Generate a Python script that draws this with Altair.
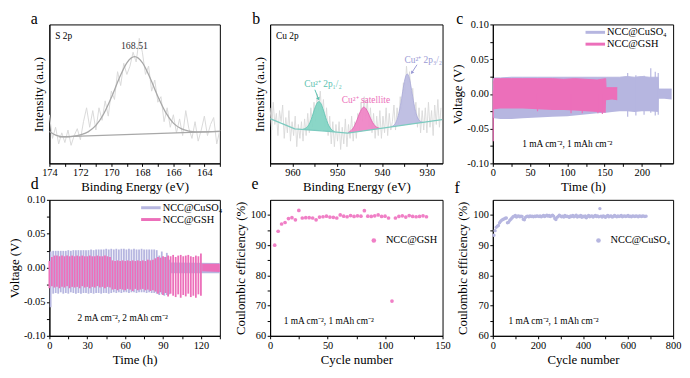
import altair as alt
import pandas as pd

FONT = "Liberation Serif"
LAV = "#b6b6e0"
LAV_TXT = "#9a9ad4"
PINK = "#ec6fba"
PINK_PT = "#f07fc6"
TEAL = "#84d4c4"
TEAL_DARK = "#5cc2b0"
GREY_RAW = "#d9d9d9"
GREY_FIT = "#a8a8a8"
CU = "NCC@CuSO\u2084"
GSH = "NCC@GSH"

# ---------------- panel a: S 2p ----------------
A_RAW_START, A_RAW_STEP = 174.0, -0.2
A_RAW = [35, 18, 26, 14, 22, 15, 24, 13, 20, 25,
         17, 30, 40, 26, 38, 24, 40, 31, 45, 34,
         52, 46, 66, 56, 72, 64, 70, 80, 73, 90,
         80, 64, 70, 52, 60, 44, 48, 30, 40, 26,
         35, 22, 32, 20, 38, 25, 18, 30, 16, 24,
         34, 20, 28, 33, 14, 24]
A_FIT_E = [174, 173.5, 173, 172.5, 172, 171.5, 171, 170.5, 170, 169.5, 169, 168.5,
           168, 167.5, 167, 166.5, 166, 165.5, 165, 164.5, 164, 163.5, 163]
A_FIT = [23, 20, 19.1, 19.5, 20.5, 22.7, 27.3, 35.5, 47.4, 61.1, 72.4, 76.8,
         72.5, 61.4, 48.1, 36.7, 29.0, 25.0, 23.2, 22.6, 22.7, 22.8, 23.0]
A_BASE_E = [173.4, 163.0]
A_BASE = [19.0, 23.0]
A_PEAK = 168.51

# ---------------- panel b: Cu 2p ----------------
B_RAW_START, B_RAW_STEP = 965.0, -0.35
B_RAW = [40, 24, 44, 28, 36, 20, 38, 30, 42, 18,
         33, 22, 38, 16, 30, 20, 34, 12, 28, 18,
         30, 16, 32, 20, 36, 22, 40, 26, 44, 30,
         50, 38, 52, 34, 46, 26, 40, 20, 34, 14,
         30, 12, 28, 16, 30, 10, 26, 14, 32, 12,
         28, 18, 34, 16, 30, 18, 36, 24, 44, 30,
         48, 32, 46, 26, 40, 22, 36, 18, 34, 20,
         38, 18, 34, 22, 40, 20, 36, 24, 30, 42,
         24, 40, 28, 48, 38, 58, 50, 70, 56, 66,
         46, 54, 34, 44, 26, 40, 22, 38, 24, 40,
         22, 44, 26, 38, 20, 42, 28, 46, 26, 40]
B_BASE_E = [965, 959.5, 952, 947.7, 926.6]
B_BASE = [32.2, 24.8, 23.0, 21.8, 31.5]
B_TEAL_E = [957.6, 957.1, 956.6, 956.1, 955.6, 955.1, 954.6, 954.1, 953.6, 953.1, 952.6, 952.1, 951.6, 951.1, 950.6]
B_TEAL_LO = [24.3, 24.2, 24.0, 23.9, 23.8, 23.7, 23.6, 23.5, 23.4, 23.3, 23.2, 23.0, 22.9, 22.7, 22.6]
B_TEAL_HI = [24.7, 25.3, 26.7, 29.5, 33.8, 38.8, 42.9, 44.5, 42.7, 38.4, 33.2, 28.6, 25.6, 23.8, 23.0]
B_PINK_E = [947.6, 947.1, 946.6, 946.1, 945.6, 945.1, 944.6, 944.1, 943.6, 943.1, 942.6, 942.1, 941.6, 941.1, 940.6]
B_PINK_LO = [21.8, 22.1, 22.3, 22.5, 22.8, 23.0, 23.2, 23.5, 23.7, 23.9, 24.1, 24.4, 24.6, 24.8, 25.1]
B_PINK_HI = [22.2, 23.2, 24.8, 27.5, 31.3, 35.5, 38.9, 40.5, 39.4, 36.4, 32.6, 29.4, 27.1, 25.9, 25.5]
B_LAV_E = [937.9, 937.4, 936.9, 936.4, 935.9, 935.4, 934.9, 934.4, 933.9, 933.4, 932.9, 932.4, 931.9, 931.4, 930.9]
B_LAV_LO = [26.3, 26.5, 26.8, 27.0, 27.2, 27.5, 27.7, 27.9, 28.2, 28.4, 28.6, 28.8, 29.1, 29.3, 29.5]
B_LAV_HI = [26.5, 27.4, 29.6, 34.3, 41.7, 51.7, 60.7, 64.4, 61.2, 52.6, 43.1, 35.9, 31.9, 30.2, 29.7]
B_LABELS = ["Cu\u00b2\u207a 2p\u2081/\u2082", "Cu\u00b2\u207a satellite", "Cu\u00b2\u207a 2p\u2083/\u2082"]
B_LABEL_E = [953.2, 943.6, 930.8]
B_LABEL_I = [55.0, 43.5, 72.5]
B_LABEL_COL = [TEAL_DARK, PINK, LAV_TXT]

# ---------------- panel c: 1 mA cm-2 ----------------
C_LAV_T = [0, 2, 10, 25, 40, 60, 80, 100, 120, 140, 152, 160, 170, 180, 190, 200, 210, 222, 222.5, 230, 240]
C_LAV_HI = [0.021, 0.023, 0.023, 0.024, 0.024, 0.024, 0.024, 0.024, 0.024, 0.024, 0.024,
            0.024, 0.024, 0.025, 0.024, 0.025, 0.024, 0.024, 0.007, 0.007, 0.007]
C_LAV_LO = [-0.034, -0.035, -0.036, -0.036, -0.035, -0.034, -0.033, -0.032, -0.030, -0.028, -0.027,
            -0.026, -0.025, -0.025, -0.026, -0.025, -0.025, -0.026, -0.007, -0.007, -0.008]
C_LAV_SPK_T = [181, 192, 203, 212, 218, 222]
C_LAV_SPK_HI = [0.030, 0.027, 0.026, 0.037, 0.032, 0.030]
C_LAV_SPK_LO = [-0.033, -0.031, -0.030, -0.027, -0.031, -0.030]
C_PINK_T = [0.5, 2, 10, 25, 40, 60, 80, 95, 110, 125, 140, 151.5, 152, 160, 167]
C_PINK_HI = [0.015, 0.022, 0.022, 0.022, 0.022, 0.022, 0.022, 0.021, 0.022, 0.021, 0.020, 0.022, 0.009, 0.009, 0.009]
C_PINK_LO = [-0.022, -0.022, -0.021, -0.021, -0.021, -0.022, -0.023, -0.023, -0.024, -0.025, -0.026, -0.027,
             -0.009, -0.008, -0.009]
C_PINK_SPK_T = [0.6, 60, 105, 120, 141, 147]
C_PINK_SPK_HI = [0.005, 0.0, 0.0, 0.0, 0.0, 0.0]
C_PINK_SPK_LO = [-0.068, -0.025, -0.028, -0.028, -0.028, -0.029]

# ---------------- panel d: 2 mA cm-2 ----------------
D_LAV_T = [1 + 2 * k for k in range(48)]
D_LAV_HI = [0.024, 0.025, 0.025, 0.025, 0.025, 0.025, 0.025, 0.026, 0.025, 0.026,
            0.026, 0.026, 0.026, 0.026, 0.026, 0.026, 0.027, 0.026, 0.027, 0.027,
            0.027, 0.027, 0.028, 0.027, 0.028, 0.027, 0.028, 0.027, 0.028, 0.028,
            0.027, 0.028, 0.027, 0.028, 0.027, 0.027, 0.028, 0.027, 0.027, 0.027,
            0.027, 0.027, 0.026, 0.018, 0.024, 0.016, 0.022, 0.012]
D_LAV_LO = [-0.058, -0.038, -0.037, -0.038, -0.036, -0.038, -0.037, -0.038, -0.036, -0.037,
            -0.038, -0.037, -0.038, -0.037, -0.037, -0.038, -0.037, -0.038, -0.037, -0.037,
            -0.038, -0.037, -0.037, -0.038, -0.037, -0.036, -0.037, -0.036, -0.037, -0.036,
            -0.036, -0.037, -0.036, -0.036, -0.037, -0.036, -0.036, -0.036, -0.037, -0.036,
            -0.037, -0.037, -0.038, -0.040, -0.039, -0.041, -0.040, -0.039]
D_PINK_T = [2 * k for k in range(61)]
D_PINK_HI = [0.010, 0.016, 0.018, 0.018, 0.017, 0.018, 0.017, 0.018, 0.017, 0.018,
             0.017, 0.018, 0.017, 0.018, 0.017, 0.017, 0.018, 0.017, 0.017, 0.018,
             0.017, 0.017, 0.018, 0.017, 0.016, 0.011, 0.010, 0.011, 0.010, 0.011,
             0.010, 0.011, 0.010, 0.011, 0.010, 0.011, 0.010, 0.011, 0.010, 0.012,
             0.011, 0.012, 0.014, 0.016, 0.015, 0.017, 0.016, 0.018, 0.017, 0.019,
             0.016, 0.018, 0.019, 0.017, 0.018, 0.019, 0.017, 0.016, 0.018, 0.017,
             0.021]
D_PINK_LO = [-0.030, -0.027, -0.029, -0.028, -0.030, -0.028, -0.029, -0.027, -0.030, -0.028,
             -0.029, -0.028, -0.030, -0.027, -0.029, -0.028, -0.030, -0.028, -0.029, -0.027,
             -0.029, -0.028, -0.030, -0.028, -0.029, -0.032, -0.031, -0.033, -0.031, -0.032,
             -0.033, -0.031, -0.032, -0.034, -0.031, -0.033, -0.032, -0.031, -0.033, -0.032,
             -0.034, -0.033, -0.035, -0.038, -0.036, -0.040, -0.037, -0.042, -0.038, -0.041,
             -0.043, -0.039, -0.044, -0.040, -0.042, -0.038, -0.043, -0.041, -0.044, -0.039,
             -0.041]
D_LAV_NB_T = [95, 135]
D_LAV_NB_HI = [0.008, 0.007]
D_LAV_NB_LO = [-0.008, -0.008]
D_PINK_NB_T = [121, 135]
D_PINK_NB_HI = [0.006, 0.006]
D_PINK_NB_LO = [-0.005, -0.006]

# ---------------- panel e: CE NCC@GSH ----------------
E_CYCLE = [4 + 3 * k for k in range(45)]
E_CE = [90.0, 94.6, 97.0, 97.5, 98.8, 99.1, 98.4, 101.5, 99.0, 99.1,
        99.1, 99.0, 98.4, 99.3, 99.4, 99.6, 99.3, 99.2, 99.0, 100.0,
        99.6, 99.4, 99.8, 99.5, 99.7, 99.6, 101.4, 99.6, 99.5, 99.7,
        100.0, 99.5, 99.6, 99.0, 71.5, 99.0, 99.5, 99.7, 99.3, 99.8,
        99.5, 99.4, 99.5, 99.7, 99.4]

# ---------------- panel f: CE NCC@CuSO4 ----------------
F_CYCLE = [5 * (k + 1) for k in range(136)]
F_CE = [93.3, 94.8, 95.9, 96.3, 96.5, 97.4, 97.9, 98.3, 98.5, 98.7,
        98.9, 99.0, 97.4, 97.6, 98.2, 98.6, 99.0, 99.4, 99.6, 99.8,
        99.3, 99.6, 99.7, 99.4, 99.6, 99.5, 98.6, 98.4, 99.2, 99.5,
        99.6, 99.4, 99.7, 99.5, 99.6, 99.4, 99.6, 99.5, 99.7, 99.6,
        99.5, 99.7, 99.4, 99.6, 99.8, 99.5, 99.7, 99.9, 99.6, 99.8,
        99.5, 99.7, 99.9, 99.6, 98.8, 98.5, 99.2, 99.5, 99.9, 99.7,
        99.4, 99.6, 99.3, 99.8, 99.5, 99.6, 99.4, 99.2, 99.7, 99.5,
        99.8, 99.4, 99.6, 99.9, 99.3, 99.6, 99.5, 99.8, 99.2, 99.6,
        99.4, 99.7, 99.1, 99.5, 99.8, 99.4, 99.6, 99.7, 99.3, 99.6,
        99.8, 99.5, 99.7, 99.4, 102.1, 99.6, 99.3, 99.7, 99.5, 99.2,
        99.6, 99.8, 99.4, 99.6, 99.7, 99.3, 99.5, 99.8, 99.6, 99.4,
        99.7, 99.5, 99.6, 99.8, 99.4, 99.6, 99.7, 99.5, 99.6, 99.8,
        99.5, 99.6, 99.4, 99.7, 99.6, 99.5, 99.7, 99.6, 99.4, 99.7,
        99.6, 99.5, 99.7, 99.6, 99.5, 99.6]

ANNOT1 = "1 mA cm\u207b\u00b2, 1 mAh cm\u207b\u00b2"
ANNOT2 = "2 mA cm\u207b\u00b2, 2 mAh cm\u207b\u00b2"

# ---------------- helpers ----------------
ONE = pd.DataFrame({"k": [0]})


def letter(ch, dx, dy):
    return alt.Chart(ONE).mark_text(text=ch, fontSize=16, align="left", baseline="alphabetic",
                                    color="black").encode(x=alt.value(dx), y=alt.value(dy))


def corner(txt, dx, dy):
    return alt.Chart(ONE).mark_text(text=txt, fontSize=9.5, align="left", baseline="alphabetic",
                                    color="black").encode(x=alt.value(dx), y=alt.value(dy))


def xaxis(title, values, test):
    return alt.Axis(title=title, values=values, labelExpr=f"{test} ? datum.label : ''",
                    labelFlush=False, grid=False, titleFontWeight="normal", titleFont=FONT, labelFont=FONT)


V_VALUES = [-0.1, -0.075, -0.05, -0.025, 0, 0.025, 0.05, 0.075, 0.1]
V_AXIS = alt.Axis(title="Voltage (V)", values=V_VALUES, grid=False, titlePadding=2,
                  titleFontWeight="normal", titleFont=FONT, labelFont=FONT,
                  labelExpr="abs(round(datum.value*1000)) % 50 == 0 ? replace(format(datum.value, '.2f'), '\u2212', '-') : ''")
V_SCALE = alt.Scale(domain=[-0.1, 0.1], nice=False, zero=False)
CE_AXIS = alt.Axis(title="Coulombic efficiency (%)", values=list(range(60, 105, 5)), grid=False,
                   titleFontWeight="normal", titleFont=FONT, labelFont=FONT,
                   labelExpr="datum.value % 10 == 0 ? datum.label : ''")
CE_SCALE = alt.Scale(domain=[60, 105], nice=False, zero=False)

W1, W2, W3 = 173, 175, 183
H1, H2 = 141, 138

# ---------------- panel a chart ----------------
a_raw = pd.DataFrame({"e": [round(A_RAW_START + A_RAW_STEP * i, 2) for i in range(len(A_RAW))], "i": A_RAW})
a_fit = pd.DataFrame({"e": A_FIT_E, "i": A_FIT})
a_base = pd.DataFrame({"e": A_BASE_E, "i": A_BASE})
a_txt = pd.DataFrame({"e": [A_PEAK], "i": [82], "t": [f"{A_PEAK:.2f}"]})
xa = alt.X("e:Q", scale=alt.Scale(domain=[163, 174], reverse=True, nice=False, zero=False),
           axis=xaxis("Binding Energy (eV)", list(range(163, 175)), "datum.value % 2 == 0"))
ya = alt.Y("i:Q", scale=alt.Scale(domain=[0, 100], nice=False, zero=False),
           axis=alt.Axis(title="Intensity (a.u.)", labels=False, ticks=False, grid=False, titlePadding=4,
                         titleFontWeight="normal", titleFont=FONT))
panel_a = alt.layer(
    alt.Chart(a_raw).mark_line(color=GREY_RAW, strokeWidth=1).encode(x=xa, y=ya),
    alt.Chart(a_base).mark_line(color=GREY_FIT, strokeWidth=1.3).encode(x=xa, y=ya),
    alt.Chart(a_fit).mark_line(color=GREY_FIT, strokeWidth=1.3, interpolate="monotone").encode(x=xa, y=ya),
    alt.Chart(a_txt).mark_text(fontSize=10, baseline="alphabetic", color="#333333").encode(x=xa, y=ya, text="t:N"),
    corner("S 2p", 6, 15),
    letter("a", -19, 0),
).properties(width=W1, height=H1)

# ---------------- panel b chart ----------------
b_raw = pd.DataFrame({"e": [round(B_RAW_START + B_RAW_STEP * i, 2) for i in range(len(B_RAW))], "i": B_RAW})
b_base = pd.DataFrame({"e": B_BASE_E, "i": B_BASE})
xb = alt.X("e:Q", scale=alt.Scale(domain=[926.5, 965], reverse=True, nice=False, zero=False),
           axis=xaxis("Binding Energy (eV)", list(range(930, 970, 5)), "datum.value % 10 == 0"))
yb_scale = alt.Scale(domain=[0, 100], nice=False, zero=False)
yb_axis = alt.Axis(title="Intensity (a.u.)", labels=False, ticks=False, grid=False, titlePadding=4,
                   titleFontWeight="normal", titleFont=FONT)


def yb(f):
    return alt.Y(f, scale=yb_scale, axis=yb_axis)


def peak(es, lo, hi, fill, edge):
    df = pd.DataFrame({"e": es, "lo": lo, "hi": hi})
    return [
        alt.Chart(df).mark_area(color=fill, opacity=0.95, interpolate="monotone").encode(x=xb, y=yb("hi:Q"), y2="lo:Q"),
        alt.Chart(df).mark_line(color=edge, strokeWidth=0.8, interpolate="monotone").encode(x=xb, y=yb("hi:Q")),
    ]


b_lbl = pd.DataFrame({"e": B_LABEL_E, "i": B_LABEL_I, "t": B_LABELS, "c": B_LABEL_COL})
b_arrows = pd.DataFrame({"e": [955.0, 932.2], "i": [53.0, 71.0], "e2": [954.25, 933.3], "i2": [46.8, 65.6]})
b_head_t = pd.DataFrame({"e": [954.2], "i": [46.3]})
b_head_l = pd.DataFrame({"e": [933.35], "i": [65.2]})
panel_b = alt.layer(
    alt.Chart(b_raw).mark_line(color=GREY_RAW, strokeWidth=0.9).encode(x=xb, y=yb("i:Q")),
    *peak(B_TEAL_E, B_TEAL_LO, B_TEAL_HI, TEAL, TEAL_DARK),
    *peak(B_PINK_E, B_PINK_LO, B_PINK_HI, "#ef86c6", "#e060ae"),
    *peak(B_LAV_E, B_LAV_LO, B_LAV_HI, "#bdbde2", "#a8a8d8"),
    alt.Chart(b_base).mark_line(color="#7ccabf", strokeWidth=1.3).encode(x=xb, y=yb("i:Q")),
    alt.Chart(b_lbl).mark_text(fontSize=9.5, baseline="alphabetic").encode(
        x=xb, y=yb("i:Q"), text="t:N", color=alt.Color("c:N", scale=None)),
    alt.Chart(b_arrows.iloc[[0]]).mark_rule(color=TEAL_DARK, strokeWidth=1).encode(x=xb, y=yb("i:Q"), x2="e2:Q", y2="i2:Q"),
    alt.Chart(b_arrows.iloc[[1]]).mark_rule(color=LAV_TXT, strokeWidth=1).encode(x=xb, y=yb("i:Q"), x2="e2:Q", y2="i2:Q"),
    alt.Chart(b_head_t).mark_point(shape="triangle-down", filled=True, size=14, color=TEAL_DARK, angle=336, opacity=1).encode(x=xb, y=yb("i:Q")),
    alt.Chart(b_head_l).mark_point(shape="triangle-down", filled=True, size=14, color=LAV_TXT, angle=34, opacity=1).encode(x=xb, y=yb("i:Q")),
    corner("Cu 2p", 6, 15),
    letter("b", -18, 0),
).properties(width=W2, height=H1)

# ---------------- panel c chart ----------------
xc = alt.X("t:Q", scale=alt.Scale(domain=[0, 242], nice=False, zero=False),
           axis=xaxis("Time (h)", list(range(0, 250, 25)), "datum.value % 50 == 0"))


def yv(f):
    return alt.Y(f, scale=V_SCALE, axis=V_AXIS)


def two_color_legend(x, y):
    return alt.Color("s:N", scale=alt.Scale(domain=[CU, GSH], range=[LAV, PINK]),
                     legend=alt.Legend(title=None, orient="none", legendX=x, legendY=y,
                                       symbolType="M-2.2,0L2.2,0", symbolStrokeWidth=3, symbolSize=81,
                                       labelFontSize=10.5, labelOffset=6, padding=0, rowPadding=0,
                                       labelFont=FONT))


c_lav = pd.DataFrame({"t": C_LAV_T, "hi": C_LAV_HI, "lo": C_LAV_LO})
c_pink = pd.DataFrame({"t": C_PINK_T, "hi": C_PINK_HI, "lo": C_PINK_LO})
c_lav_spk = pd.DataFrame({"t": C_LAV_SPK_T, "hi": C_LAV_SPK_HI, "lo": C_LAV_SPK_LO})
c_pink_spk = pd.DataFrame({"t": C_PINK_SPK_T, "hi": C_PINK_SPK_HI, "lo": C_PINK_SPK_LO})
c_edges = pd.concat([
    pd.DataFrame({"t": C_LAV_T, "v": C_LAV_HI, "s": CU}),
    pd.DataFrame({"t": C_PINK_T, "v": C_PINK_HI, "s": GSH}),
])
c_txt = pd.DataFrame({"t": [100], "v": [-0.077], "x": [ANNOT1]})
panel_c = alt.layer(
    alt.Chart(c_lav).mark_area(color=LAV, opacity=1).encode(x=xc, y=yv("hi:Q"), y2="lo:Q"),
    alt.Chart(c_lav_spk).mark_rule(color=LAV, strokeWidth=1.2).encode(x=xc, y=yv("lo:Q"), y2="hi:Q"),
    alt.Chart(c_pink).mark_area(color=PINK, opacity=1).encode(x=xc, y=yv("hi:Q"), y2="lo:Q"),
    alt.Chart(c_pink_spk).mark_rule(color=PINK, strokeWidth=1.2).encode(x=xc, y=yv("lo:Q"), y2="hi:Q"),
    alt.Chart(c_edges).mark_line(strokeWidth=1).encode(x=xc, y=yv("v:Q"), color=two_color_legend(98, 2)),
    alt.Chart(c_txt).mark_text(fontSize=9.5, baseline="alphabetic", color="black").encode(x=xc, y=yv("v:Q"), text="x:N"),
    letter("c", -37, 0),
).properties(width=W3, height=H1)

# ---------------- panel d chart ----------------
xd = alt.X("t:Q", scale=alt.Scale(domain=[0, 135], nice=False, zero=False),
           axis=xaxis("Time (h)", list(range(0, 150, 15)), "datum.value % 30 == 0"))
d_rules = pd.concat([
    pd.DataFrame({"t": D_LAV_T, "hi": D_LAV_HI, "lo": D_LAV_LO, "s": CU}),
    pd.DataFrame({"t": D_PINK_T, "hi": D_PINK_HI, "lo": D_PINK_LO, "s": GSH}),
])
d_lav_nb = pd.DataFrame({"t": D_LAV_NB_T, "hi": D_LAV_NB_HI, "lo": D_LAV_NB_LO})
d_pink_nb = pd.DataFrame({"t": D_PINK_NB_T, "hi": D_PINK_NB_HI, "lo": D_PINK_NB_LO})
d_txt = pd.DataFrame({"t": [58], "v": [-0.078], "x": [ANNOT2]})
panel_d = alt.layer(
    alt.Chart(d_lav_nb).mark_area(color=LAV, opacity=1).encode(x=xd, y=yv("hi:Q"), y2="lo:Q"),
    alt.Chart(d_rules).mark_rule(strokeWidth=1.8).encode(x=xd, y=yv("lo:Q"), y2="hi:Q", color=two_color_legend(97, 2)),
    alt.Chart(d_pink_nb).mark_area(color=PINK, opacity=1).encode(x=xd, y=yv("hi:Q"), y2="lo:Q"),
    alt.Chart(d_txt).mark_text(fontSize=9.5, baseline="alphabetic", color="black").encode(x=xd, y=yv("v:Q"), text="x:N"),
    letter("d", -19, -11),
).properties(width=W1, height=H2)

# ---------------- panel e chart ----------------
e_df = pd.DataFrame({"n": E_CYCLE, "ce": E_CE, "s": GSH})
xe = alt.X("n:Q", scale=alt.Scale(domain=[0, 150], nice=False, zero=False),
           axis=xaxis("Cycle number", list(range(0, 175, 25)), "datum.value % 50 == 0"))
ye = alt.Y("ce:Q", scale=CE_SCALE, axis=CE_AXIS)
e_txt = pd.DataFrame({"n": [51], "ce": [64], "x": [ANNOT1]})
panel_e = alt.layer(
    alt.Chart(e_df).mark_point(filled=True, size=14, opacity=1).encode(
        x=xe, y=ye, color=alt.Color("s:N", scale=alt.Scale(domain=[GSH], range=[PINK_PT]),
                                    legend=alt.Legend(title=None, orient="none", legendX=100, legendY=36,
                                                      symbolType="circle", symbolSize=22, labelFontSize=10.5,
                                                      labelOffset=7, padding=0, labelFont=FONT))),
    alt.Chart(e_txt).mark_text(fontSize=9.5, baseline="alphabetic", color="black").encode(x=xe, y=ye, text="x:N"),
    letter("e", -19, -11),
).properties(width=W2, height=H2)

# ---------------- panel f chart ----------------
f_df = pd.DataFrame({"n": F_CYCLE, "ce": F_CE, "s": CU})
xf = alt.X("n:Q", scale=alt.Scale(domain=[0, 800], nice=False, zero=False),
           axis=xaxis("Cycle number", list(range(0, 900, 100)), "datum.value % 200 == 0"))
f_txt = pd.DataFrame({"n": [269], "ce": [64], "x": [ANNOT1]})
panel_f = alt.layer(
    alt.Chart(f_df).mark_point(filled=True, size=12, opacity=1).encode(
        x=xf, y=ye, color=alt.Color("s:N", scale=alt.Scale(domain=[CU], range=[LAV]),
                                    legend=alt.Legend(title=None, orient="none", legendX=102, legendY=36,
                                                      symbolType="circle", symbolSize=22, labelFontSize=10.5,
                                                      labelOffset=7, padding=0, labelFont=FONT))),
    alt.Chart(f_txt).mark_text(fontSize=9.5, baseline="alphabetic", color="black").encode(x=xf, y=ye, text="x:N"),
    letter("f", -39, -7),
).properties(width=W3, height=H2)

# ---------------- layout ----------------
chart = alt.concat(
    panel_a, panel_b, panel_c, panel_d, panel_e, panel_f,
    columns=3, spacing={"row": 37, "column": 51}, bounds="flush",
).resolve_scale(color="independent").properties(
    padding={"left": 0, "right": 0, "top": 0, "bottom": 0}
).configure(font=FONT).configure_view(stroke="black", strokeWidth=1).configure_axis(
    labelFont=FONT, titleFont=FONT, labelFontSize=10.5, titleFontSize=13, titleFontWeight="normal",
    labelColor="black", titleColor="black", domainColor="black", tickColor="black",
    tickSize=3, labelPadding=1.5, titlePadding=3, domainWidth=1, tickWidth=1,
).configure_legend(labelFont=FONT, labelColor="black")

chart.save("out.html", embed_options={"renderer": "svg", "actions": False})
